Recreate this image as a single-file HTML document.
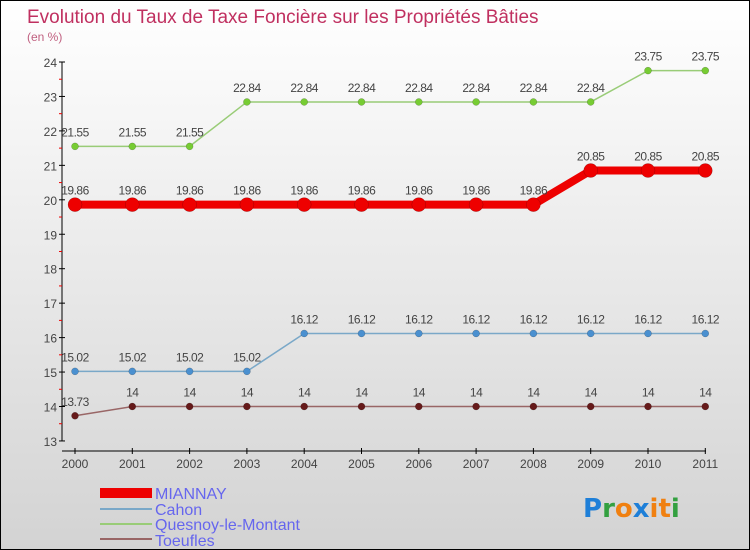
<!DOCTYPE html>
<html><head><meta charset="utf-8"><style>
body{margin:0}
#c{position:relative;width:748px;height:548px;border:1px solid #000;background:linear-gradient(#fff,#d3d3d3);font-family:"Liberation Sans",sans-serif;overflow:hidden}
</style></head><body>
<div id="c">
<svg id="s" width="748" height="548" xmlns="http://www.w3.org/2000/svg">
<text x="26" y="22" font-size="19" fill="#c03060">Evolution du Taux de Taxe Foncière sur les Propriétés Bâties</text>
<text x="26" y="40" font-size="12" fill="#c06080">(en %)</text>
<g id="axes"></g><g id="series"></g>
<g>
<rect x="99" y="487" width="52" height="10" fill="#ee0000"/>
<text x="154" y="498" font-size="16" fill="#6666ee">MIANNAY</text>
<rect x="99" y="507" width="52" height="2" fill="#7aa8c8"/>
<text x="154" y="514" font-size="16" fill="#6666ee">Cahon</text>
<rect x="99" y="522" width="52" height="2" fill="#99cc77"/>
<text x="154" y="529" font-size="16" fill="#6666ee">Quesnoy-le-Montant</text>
<rect x="99" y="537" width="52" height="2" fill="#996666"/>
<text x="154" y="545" font-size="16" fill="#6666ee">Toeufles</text>
</g>
<g font-size="26" font-weight="bold" font-family="'DejaVu Sans',sans-serif">
<text x="582" y="516"><tspan fill="#1e7fd8">P</tspan><tspan fill="#33a040">r</tspan><tspan fill="#f08010">o</tspan><tspan fill="#1e7fd8">x</tspan><tspan fill="#f08010">i</tspan><tspan fill="#f08010">t</tspan><tspan fill="#33a040">i</tspan></text>
</g>
</svg></div>
<script>
const years=[2000,2001,2002,2003,2004,2005,2006,2007,2008,2009,2010,2011];
const yTicks=[13,14,15,16,17,18,19,20,21,22,23,24];
const miannay=[19.86,19.86,19.86,19.86,19.86,19.86,19.86,19.86,19.86,20.85,20.85,20.85];
const cahon=[15.02,15.02,15.02,15.02,16.12,16.12,16.12,16.12,16.12,16.12,16.12,16.12];
const quesnoy=[21.55,21.55,21.55,22.84,22.84,22.84,22.84,22.84,22.84,22.84,23.75,23.75];
const toeufles=[13.73,14,14,14,14,14,14,14,14,14,14,14];
const NS="http://www.w3.org/2000/svg";
const X=i=>74+i*57.3, Y=v=>61+(24-v)*34.45;
function mk(t,a,p){const e=document.createElementNS(NS,t);for(const k in a)e.setAttribute(k,a[k]);p.appendChild(e);return e;}
const ax=document.getElementById('axes'), sg=document.getElementById('series');
let l=mk('line',{x1:61,y1:Y(24),x2:61,y2:Y(13),stroke:'#000'},ax);

yTicks.forEach(v=>{mk('line',{x1:58,x2:64,y1:Y(v),y2:Y(v),stroke:'#000'},ax);
 if(v<24)mk('line',{x1:58,x2:61,y1:Y(v+0.5),y2:Y(v+0.5),stroke:'#e00'},ax);
 const t=mk('text',{x:56,y:Y(v)+5,'font-size':12,'text-anchor':'end',fill:'#444'},ax);t.textContent=v;
 });
l=mk('line',{x1:61,y1:450,x2:705,y2:450,stroke:'#000'},ax);

years.forEach((y,i)=>{mk('line',{x1:X(i),x2:X(i),y1:447,y2:453,stroke:'#000'},ax);
 const t=mk('text',{x:X(i),y:467,'font-size':12,'text-anchor':'middle',fill:'#444'},ax);t.textContent=y;
 });
function series(d,name,col,w,r,dot){
 const g=mk('g',{},sg);
 mk('polyline',{points:d.map((v,i)=>X(i)+','+Y(v)).join(' '),fill:'none',stroke:col,'stroke-width':w},g);
 d.forEach((v,i)=>{const c=mk('circle',{cx:X(i),cy:Y(v),r:r,fill:dot,stroke:'rgba(0,0,0,0.3)','stroke-width':0.5},g);
  
  const t=mk('text',{x:X(i),y:Y(v)-10,'font-size':12,'text-anchor':'middle',fill:'#444','letter-spacing':'-0.5'},g);
  t.textContent=String(v);});
}
series(quesnoy,'quesnoy','#99cc77',1.5,3.5,'#77cc33');
series(cahon,'cahon','#7aa8c8',1.5,3.5,'#4a90d0');
series(toeufles,'toeufles','#996666',1.5,3.5,'#661a1a');
series(miannay,'miannay','#ee0000',8,7,'#ee0000');
</script>
</body></html>
